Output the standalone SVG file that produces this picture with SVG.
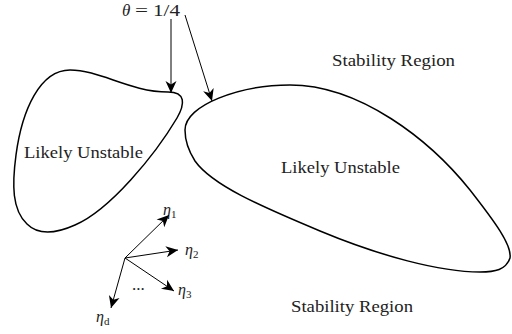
<svg xmlns="http://www.w3.org/2000/svg" width="512" height="334" viewBox="0 0 512 334">
<style>
.blob{fill:none;stroke:#000;stroke-width:1.5}
.arr{fill:none;stroke:#000;stroke-width:1;marker-end:url(#ah)}
.lbl{font-family:"Liberation Serif","DejaVu Serif",serif;font-size:17px;fill:#222}
.eta{font-family:"Liberation Serif","DejaVu Serif",serif;font-size:16px;font-style:italic;fill:#222}
.sub{font-size:11px;font-style:normal}
</style>
<defs>
<marker id="ah" viewBox="-13 -7 14 14" refX="0" refY="0" markerWidth="14" markerHeight="14" markerUnits="userSpaceOnUse" orient="auto">
<path d="M0,0 L-12,-5.5 L-8.5,0 L-12,5.5 Z" fill="#000"/>
</marker>
</defs>
<rect width="512" height="334" fill="#fff"/>
<g id="left-region">
<path class="blob" d="M70,70 C100,70 130,92 168,92 C186,92 185,104 177,118 C155,155 110,210 75,225 C55,234 38,235 27,224 C12,210 12,185 16,155 C22,110 40,70 70,70 Z"/>
<text class="lbl" x="24" y="158" textLength="119" lengthAdjust="spacingAndGlyphs">Likely Unstable</text>
</g>
<g id="right-region">
<path class="blob" d="M185,130 C185,105 240,85 290,85 C360,85 430,140 470,190 C495,222 512,245 510,258 C506,270 495,272 480,272 C440,272 380,256 320,231 C260,206 212,185 195,161 C188,150 185,140 185,130 Z"/>
<text class="lbl" x="281" y="173" textLength="119" lengthAdjust="spacingAndGlyphs">Likely Unstable</text>
</g>
<g id="stability-top"><text class="lbl" x="332" y="66" textLength="123" lengthAdjust="spacingAndGlyphs">Stability Region</text></g>
<g id="stability-bottom"><text class="lbl" x="291" y="312" textLength="122" lengthAdjust="spacingAndGlyphs">Stability Region</text></g>
<g id="theta-label"><text class="lbl" y="16"><tspan x="122" font-style="italic">θ</tspan><tspan x="135" textLength="13" lengthAdjust="spacingAndGlyphs">=</tspan><tspan x="153" textLength="27" lengthAdjust="spacingAndGlyphs">1/4</tspan></text></g>
<g id="eta-labels">
<text class="eta" x="163" y="215">η<tspan class="sub" dy="3">1</tspan></text>
<text class="eta" x="185" y="255">η<tspan class="sub" dy="3">2</tspan></text>
<text class="eta" x="178" y="295">η<tspan class="sub" dy="3">3</tspan></text>
<text class="eta" x="96" y="322">η<tspan class="sub" dy="3" font-style="italic">d</tspan></text>
<text class="lbl" x="132" y="290">...</text>
</g>
<g id="connectors">
<line class="arr" x1="171" y1="19" x2="171" y2="93"/>
<line class="arr" x1="185" y1="15" x2="212" y2="101"/>
<line class="arr" x1="125" y1="258" x2="169" y2="215"/>
<line class="arr" x1="125" y1="258" x2="178" y2="250"/>
<line class="arr" x1="125" y1="258" x2="174" y2="291"/>
<line class="arr" x1="125" y1="258" x2="111" y2="308"/>
</g>
</svg>
